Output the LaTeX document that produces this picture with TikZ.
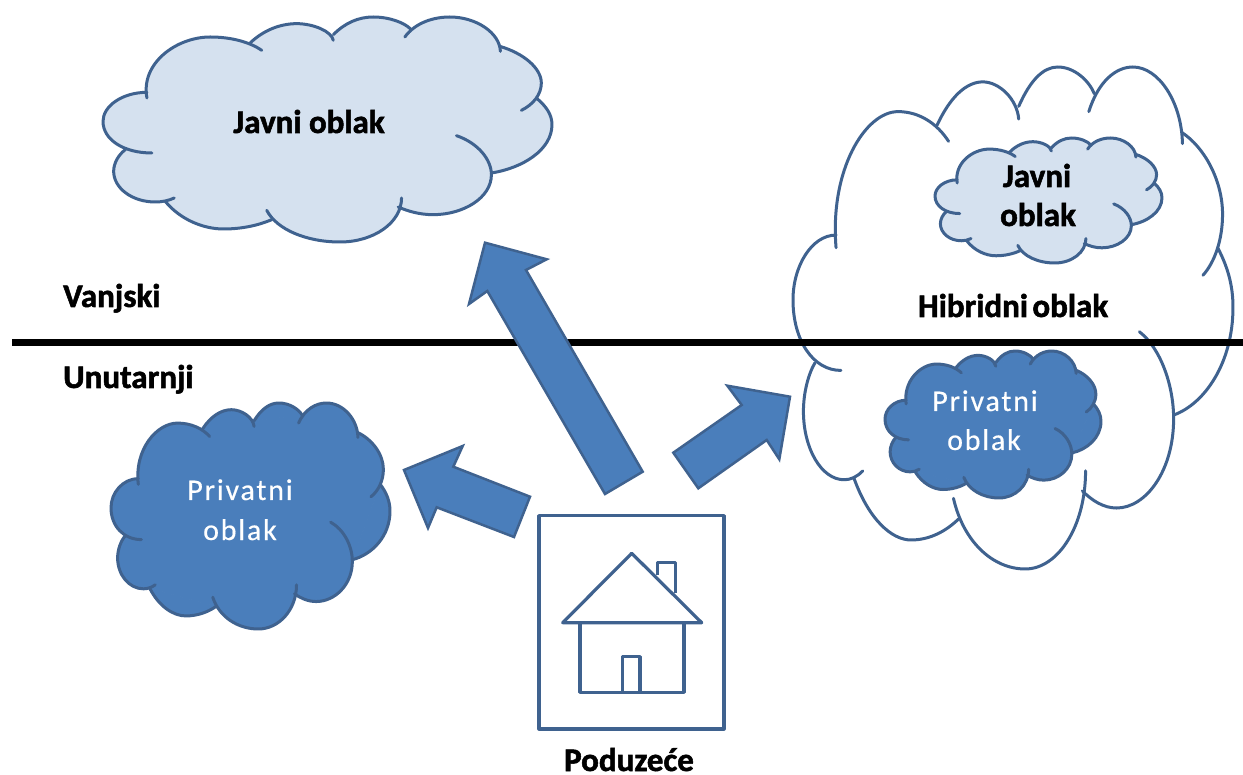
\documentclass[tikz,border=0pt]{standalone}
\usepackage{fontspec}
\setmainfont{Carlito}
\newfontfamily\headfont[FakeBold=1.6]{Carlito Bold}
\newfontfamily\privfont[LetterSpace=6,FakeBold=0.4]{Carlito}
\definecolor{fillblue}{HTML}{4A7EBB}
\definecolor{lightblue}{HTML}{D5E1EF}
\definecolor{edgeblue}{HTML}{3F628F}
\newcommand\cloudlobes[1]{%
 #1{(170,295) .. controls (150,190) and (260,112) .. (360,112) .. controls (425,112) and (480,128) .. (515,152)}%
 #1{(480,130) .. controls (520,92) and (570,72) .. (620,72) .. controls (670,72) and (725,95) .. (730,122)}%
 #1{(730,105) .. controls (765,70) and (805,52) .. (850,52) .. controls (900,52) and (945,70) .. (962,88)}%
 #1{(945,112) .. controls (975,70) and (1030,52) .. (1080,52) .. controls (1160,52) and (1230,100) .. (1232,155)}%
 #1{(1230,140) .. controls (1300,160) and (1355,205) .. (1355,250) .. controls (1355,285) and (1330,315) .. (1295,332)}%
 #1{(1340,295) .. controls (1370,320) and (1387,345) .. (1387,375) .. controls (1387,450) and (1300,505) .. (1205,520)}%
 #1{(1100,408) .. controls (1165,430) and (1205,480) .. (1205,525) .. controls (1205,595) and (1120,645) .. (1030,645) .. controls (990,645) and (955,635) .. (925,622)}%
 #1{(530,632) .. controls (560,690) and (650,727) .. (750,727) .. controls (850,727) and (935,670) .. (935,595)}%
 #1{(225,605) .. controls (270,660) and (340,688) .. (400,688) .. controls (455,688) and (505,677) .. (545,660)}%
 #1{(252,595) .. controls (235,603) and (215,607) .. (195,607) .. controls (125,607) and (70,565) .. (70,515) .. controls (70,490) and (85,465) .. (105,450)}%
 #1{(185,460) .. controls (100,460) and (38,420) .. (38,365) .. controls (38,320) and (95,278) .. (170,278)}%
}
\newcommand\lobefill[1]{\path[cloudbody] #1;}
\newcommand\lobeline[1]{\path[cloudline] #1;}
\newcommand\cloudat[5]{%
 \pgfmathsetmacro\sx{(#3-#1)/1349}%
 \pgfmathsetmacro\sy{(#4-#2)/675}%
 \begin{scope}[shift={(#1,#2)},xscale=\sx,yscale=\sy,shift={(-38,-52)},cloudbody/.style={fill=#5,draw=#5,line width=1pt}]
  \path[cloudbody] (165,278) -- (480,130) -- (730,105) -- (962,88) -- (1230,140) -- (1340,295) -- (1205,520) -- (925,622) -- (545,660) -- (225,605) -- (105,450) -- cycle;
  \path[cloudbody] (170,295) -- (515,152) -- (730,122) -- (945,112) -- (1232,155) -- (1295,332) -- (1100,408) -- (935,595) -- (530,632) -- (252,595) -- (185,460) -- cycle;
  \cloudlobes{\lobefill}
  \cloudlobes{\lobeline}
 \end{scope}}
\tikzset{
 x=1pt,y=-1pt,
 cloudline/.style={draw=edgeblue,line width=3pt,line cap=round,line join=round},
 blockarrow/.style={fill=fillblue,draw=edgeblue,line width=2.5pt,line join=miter},
 houseline/.style={draw=edgeblue,line width=3.2pt,line join=round},
 boldlabel/.style={font=\headfont\fontsize{33}{33}\selectfont,text=black,inner sep=0pt,anchor=base},
 privlabel/.style={font=\privfont\fontsize{30}{30}\selectfont,text=white,inner sep=0pt,anchor=base},
}
\begin{document}
\begin{tikzpicture}
\useasboundingbox (0,0) rectangle (1243,775);
\fill[white] (0,0) rectangle (1243,775);
% clouds
\cloudat{793}{67}{1233}{569}{white}
\cloudat{103}{17}{552}{242}{lightblue}
\cloudat{935}{138}{1162}{263}{lightblue}
\cloudat{885}{351}{1101}{498}{fillblue}
\cloudat{111}{403}{390}{629}{fillblue}
% divider
\coordinate (lineL) at (12,342.5);
\coordinate (lineR) at (1243,342.5);
\draw[black,line width=7pt] (lineL) -- (lineR);
% arrows
\draw[blockarrow] (485,242.7) -- (546.7,259.3) -- (526,270) -- (642.7,471.7) -- (605,494) -- (487.3,291) -- (469,304) -- cycle;
\draw[blockarrow] (673.3,452.7) -- (698.3,488.3) -- (766.7,440) -- (779.3,459.3) -- (790,396.7) -- (727.3,385.7) -- (741.7,405) -- cycle;
\draw[blockarrow] (404,470) -- (462.7,446) -- (453.3,466.7) -- (530,496.7) -- (514,537) -- (436.7,507.3) -- (428,528) -- cycle;
% house
\draw[houseline] (539,515.7) rectangle (724,729);
\draw[houseline] (657.3,575) -- (657.3,562.3) -- (675.3,562.3) -- (675.3,593);
\draw[houseline] (631.7,553.3) -- (701.7,622.7) -- (562.7,622.7) -- cycle;
\draw[houseline] (580,622.7) -- (580,692.3) -- (684,692.3) -- (684,622.7);
\draw[houseline] (622.7,692.3) -- (622.7,656.7) -- (640,656.7) -- (640,692.3);
% labels
\node[boldlabel] (javni) at (309,133) {Javni oblak};
\node[boldlabel] (javni2a) at (1037,187) {Javni};
\node[boldlabel] (javni2b) at (1038,226) {oblak};
\node[boldlabel] (hibrid) at (1013,317) {Hibridni\hspace{-3pt} oblak};
\node[boldlabel,anchor=base west] (vanjski) at (63,307) {Vanjski};
\node[boldlabel,anchor=base west] (unutarnji) at (63,388) {Unutarnji};
\node[boldlabel] (poduzece) at (629,771) {Poduzeće};
\node[privlabel] (priv1a) at (985,411) {Privatni};
\node[privlabel] (priv1b) at (984,450) {oblak};
\node[privlabel] (priv2a) at (240,500) {Privatni};
\node[privlabel] (priv2b) at (240,540) {oblak};
\end{tikzpicture}
\end{document}
